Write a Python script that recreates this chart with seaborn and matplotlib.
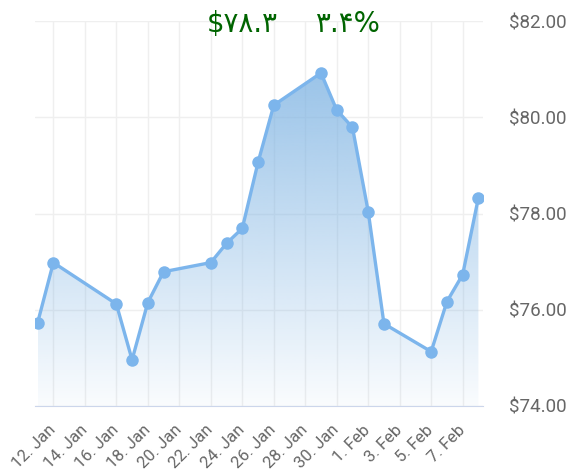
import numpy as np
import pandas as pd
import matplotlib
matplotlib.use('Agg')
import matplotlib.pyplot as plt
import matplotlib.dates as mdates
import matplotlib.transforms as mtransforms
from matplotlib.colors import LinearSegmentedColormap
from matplotlib.ticker import FuncFormatter
import seaborn as sns

# closing prices
dates = ['2023-01-11', '2023-01-12', '2023-01-16', '2023-01-17', '2023-01-18',
         '2023-01-19', '2023-01-22', '2023-01-23', '2023-01-24', '2023-01-25',
         '2023-01-26', '2023-01-29', '2023-01-30', '2023-01-31', '2023-02-01',
         '2023-02-02', '2023-02-05', '2023-02-06', '2023-02-07', '2023-02-08']
prices = [75.73, 76.98, 76.12, 74.96, 76.15, 76.79, 76.98, 77.38, 77.69, 79.06,
          80.25, 80.92, 80.15, 79.79, 78.04, 75.71, 75.13, 76.17, 76.73, 78.33]
y_ticks = [74, 76, 78, 80, 82]
price_label = '$۷۸.۳'
change_label = '۳.۴%'

sns.set_style('white')
plt.rcParams['font.family'] = ['Roboto', 'DejaVu Sans']

df = pd.DataFrame({'date': pd.to_datetime(dates), 'price': prices})

fig = plt.figure(figsize=(5.69, 4.71), dpi=100)
ax = fig.add_axes([35 / 569, 65 / 471, 448 / 569, 385 / 471])

line_col = '#7cb5ec'
sns.lineplot(data=df, x='date', y='price', ax=ax, color=line_col, linewidth=2.4,
             marker='o', markersize=9, markeredgewidth=0, zorder=4)

# gradient fill under the line (gradient spans the whole plot height)
xn = mdates.date2num(df['date'])
poly = ax.fill_between(xn, df['price'], y_ticks[0], color='none', linewidth=0)
cmap = LinearSegmentedColormap.from_list(
    'fade', [(124 / 255, 178 / 255, 226 / 255, 0.04),
             (124 / 255, 178 / 255, 226 / 255, 0.88)])
grad = np.linspace(0, 1, 256).reshape(-1, 1)
im = ax.imshow(grad, extent=[xn.min(), xn.max(), y_ticks[0], y_ticks[-1]],
               origin='lower', cmap=cmap, aspect='auto', zorder=2)
im.set_clip_path(poly.get_paths()[0], ax.transData)

ax.set_xlim(pd.Timestamp('2023-01-10 20:00'), pd.Timestamp('2023-02-08 07:00'))
ax.set_ylim(y_ticks[0], y_ticks[-1])

x_ticks = pd.date_range('2023-01-12', '2023-02-07', freq='2D')
ax.set_xticks(x_ticks)
ax.set_xticklabels([f'{d.day}. {d.strftime("%b")}' for d in x_ticks],
                   rotation=45, ha='right', va='center', rotation_mode='anchor')
shift = mtransforms.ScaledTranslation(3 / 72, 0, fig.dpi_scale_trans)
for lab in ax.get_xticklabels():
    lab.set_transform(lab.get_transform() + shift)

ax.yaxis.tick_right()
ax.set_yticks(y_ticks)
ax.yaxis.set_major_formatter(FuncFormatter(lambda v, p: f'${v:.2f}'))

ax.tick_params(axis='x', length=11, width=1, color='#c8c8c8', labelcolor='#666666',
               labelsize=12, pad=4.5)
ax.tick_params(axis='y', length=0, labelcolor='#666666', labelsize=13.5, pad=18.5)

ax.grid(True, color='#efefef', linewidth=1)
ax.set_axisbelow(True)
for s in ['top', 'left', 'right']:
    ax.spines[s].set_visible(False)
ax.spines['bottom'].set_color('#ccd6eb')
ax.set_xlabel('')
ax.set_ylabel('')

fig.text(278 / 569, 1 - 24 / 471, price_label, color='#006400', fontsize=20,
         ha='right', va='center', family=['DejaVu Sans'])
fig.text(315 / 569, 1 - 24 / 471, change_label, color='#006400', fontsize=20,
         ha='left', va='center', family=['DejaVu Sans'])

fig.savefig('out.png', dpi=100)
